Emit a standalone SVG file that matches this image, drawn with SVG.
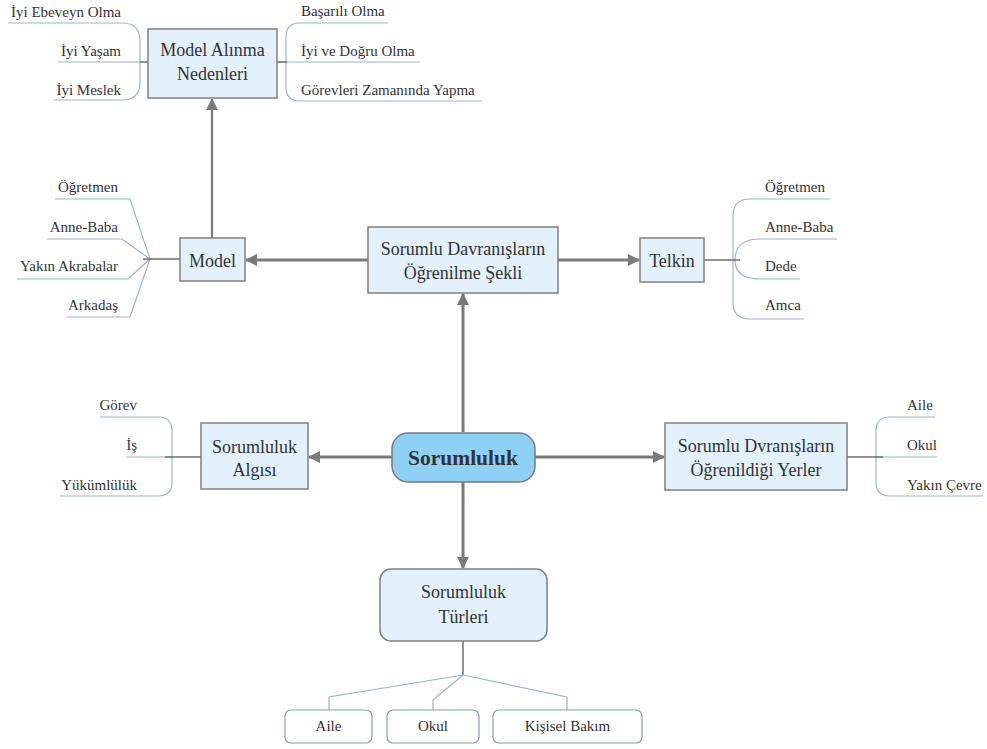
<svg xmlns="http://www.w3.org/2000/svg" width="987" height="749" viewBox="0 0 987 749" font-family="'Liberation Serif', 'DejaVu Serif', serif">
<defs>
<marker id="ah" viewBox="0 0 12 12" refX="11" refY="6" markerWidth="12" markerHeight="12" markerUnits="userSpaceOnUse" orient="auto">
<path d="M0,0 L12,6 L0,12 Z" fill="#7a7a7a"/>
</marker>
</defs>
<style>
text{font-family:'Liberation Serif','DejaVu Serif',serif;font-weight:normal;fill:#333;}
.lbl{font-size:15px;}
.box{font-size:18px;text-anchor:middle;}
.nb{fill:#e2f1fc;stroke:#808080;stroke-width:1.5;}
.leaf{fill:#fff;stroke:#8c9bb0;stroke-width:1.2;}
.br{fill:none;stroke:#9fb3cb;stroke-width:1.2;}
.dk{fill:none;stroke:#6e6e6e;stroke-width:1.5;}
.arr{fill:none;stroke:#7a7a7a;stroke-width:3;marker-end:url(#ah);}
</style>
<rect width="987" height="749" fill="#fff"/>
<g id="connectors">
<line class="arr" x1="463" y1="432" x2="463" y2="294"/>
<line class="arr" x1="368" y1="260" x2="246" y2="260"/>
<line class="arr" x1="558" y1="260" x2="639" y2="260"/>
<line class="arr" x1="212" y1="238" x2="212" y2="99" style="stroke-width:2.2"/>
<line class="arr" x1="392" y1="457" x2="309" y2="457"/>
<line class="arr" x1="535" y1="457" x2="664" y2="457"/>
<line class="arr" x1="463" y1="482" x2="463" y2="568"/>
<path class="br" d="M8,23 H122 Q140,23 140,41 V82 Q140,100 122,100 H53"/>
<path class="br" d="M58,62 H140"/>
<path class="dk" d="M140,62 H148"/>
<path class="br" d="M388,23 H300 Q286,23 286,37 V87 Q286,101 300,101 H482"/>
<path class="br" d="M286,62 H420"/>
<path class="dk" d="M277,62 H287"/>
<path class="br" d="M55,199 H130 L150,259 M47,239 H122 L150,259 M17,279 H128 L150,259 M67,317 H130 L150,259"/>
<path class="dk" d="M143,259 H180"/>
<path class="br" d="M830,199 H750 Q733,199 733,216 V302 Q733,319 750,319 H804"/>
<path class="br" d="M837,239 H760 Q735,239 735,260 Q735,279 760,279 H800"/>
<path class="dk" d="M704,260 H740"/>
<path class="br" d="M100,417 H158 Q172,417 172,431 V482 Q172,496 158,496 H60"/>
<path class="br" d="M126,457 H172"/>
<path class="dk" d="M165,457 H201"/>
<path class="br" d="M935,417 H890 Q876,417 876,431 V482 Q876,496 890,496 H983"/>
<path class="br" d="M876,457 H937"/>
<path class="dk" d="M847,457 H883"/>
<path class="dk" d="M463,641 V675"/>
<path class="br" d="M463,675 L329,697 V710 M463,675 L433,700 V710 M463,675 L567,697 V710"/>
</g>
<g id="node-model-alinma">
<rect class="nb" x="148" y="29" width="129" height="69"/>
<text class="box" x="212.5" y="56">Model Alınma</text>
<text class="box" x="212.5" y="80">Nedenleri</text>
</g>
<g id="leaves-model-alinma-left">
<text class="lbl" x="121" y="17" text-anchor="end">İyi Ebeveyn Olma</text>
<text class="lbl" x="121" y="56" text-anchor="end">İyi Yaşam</text>
<text class="lbl" x="121" y="95" text-anchor="end">İyi Meslek</text>
</g>
<g id="leaves-model-alinma-right">
<text class="lbl" x="301" y="16">Başarılı Olma</text>
<text class="lbl" x="301" y="56">İyi ve Doğru Olma</text>
<text class="lbl" x="301" y="95">Görevleri Zamanında Yapma</text>
</g>
<g id="node-model">
<rect class="nb" x="180" y="238" width="65" height="43"/>
<text class="box" x="212.5" y="267">Model</text>
</g>
<g id="leaves-model">
<text class="lbl" x="118" y="192" text-anchor="end">Öğretmen</text>
<text class="lbl" x="118" y="232" text-anchor="end">Anne-Baba</text>
<text class="lbl" x="118" y="271" text-anchor="end">Yakın Akrabalar</text>
<text class="lbl" x="118" y="310" text-anchor="end">Arkadaş</text>
</g>
<g id="node-ogrenilme">
<rect class="nb" x="368" y="227" width="190" height="66"/>
<text class="box" x="463" y="255">Sorumlu Davranışların</text>
<text class="box" x="463" y="279">Öğrenilme Şekli</text>
</g>
<g id="node-telkin">
<rect class="nb" x="640" y="238" width="64" height="44"/>
<text class="box" x="672" y="267">Telkin</text>
</g>
<g id="leaves-telkin">
<text class="lbl" x="765" y="192">Öğretmen</text>
<text class="lbl" x="765" y="232">Anne-Baba</text>
<text class="lbl" x="765" y="271">Dede</text>
<text class="lbl" x="765" y="310">Amca</text>
</g>
<g id="node-sorumluluk">
<rect x="392" y="433" width="143" height="49" rx="16" fill="#8fd0f7" stroke="#7a7a7a" stroke-width="1.5"/>
<text x="463" y="465" text-anchor="middle" font-size="21.5" style="font-weight:bold">Sorumluluk</text>
</g>
<g id="node-algisi">
<rect class="nb" x="201" y="423" width="107" height="66"/>
<text class="box" x="254.5" y="453">Sorumluluk</text>
<text class="box" x="254.5" y="476">Algısı</text>
</g>
<g id="leaves-algisi">
<text class="lbl" x="137" y="410" text-anchor="end">Görev</text>
<text class="lbl" x="137" y="450" text-anchor="end">İş</text>
<text class="lbl" x="137" y="490" text-anchor="end">Yükümlülük</text>
</g>
<g id="node-yerler">
<rect class="nb" x="665" y="423" width="182" height="67"/>
<text class="box" x="756" y="452">Sorumlu Dvranışların</text>
<text class="box" x="756" y="476">Öğrenildiği Yerler</text>
</g>
<g id="leaves-yerler">
<text class="lbl" x="907" y="410">Aile</text>
<text class="lbl" x="907" y="450">Okul</text>
<text class="lbl" x="907" y="490">Yakın Çevre</text>
</g>
<g id="node-turleri">
<rect class="nb" x="380" y="569" width="167" height="72" rx="11"/>
<text class="box" x="463.5" y="598">Sorumluluk</text>
<text class="box" x="463.5" y="623">Türleri</text>
</g>
<g id="node-aile">
<rect class="leaf" x="285" y="710" width="87" height="33" rx="6"/>
<text class="lbl" x="328.5" y="731" text-anchor="middle">Aile</text>
</g>
<g id="node-okul">
<rect class="leaf" x="387" y="710" width="92" height="33" rx="6"/>
<text class="lbl" x="433" y="731" text-anchor="middle">Okul</text>
</g>
<g id="node-kisisel">
<rect class="leaf" x="493" y="710" width="149" height="33" rx="6"/>
<text class="lbl" x="567.5" y="731" text-anchor="middle">Kişisel Bakım</text>
</g>
</svg>
